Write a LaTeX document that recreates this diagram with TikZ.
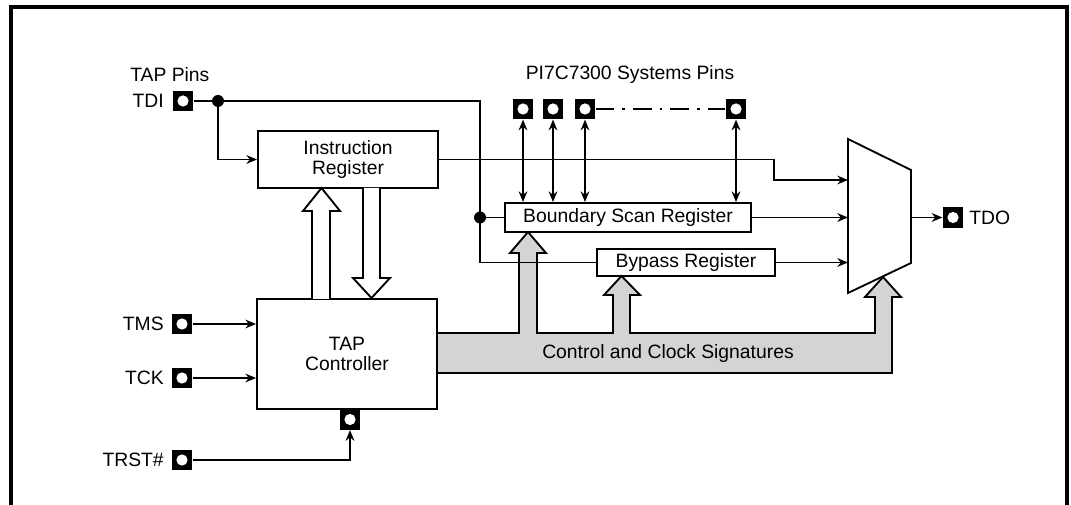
\documentclass[tikz,border=0pt]{standalone}
\usepackage{fontspec}
\setmainfont{Liberation Sans}
\usetikzlibrary{arrows.meta}

\tikzset{
	regbox/.style={draw,rectangle,line width=1.4pt,align=center,inner sep=0pt,font=\fontsize{14.5}{14.5}\selectfont},
	padsq/.style={rectangle,fill=black,minimum size=15.5pt,inner sep=0pt,
		path picture={\fill[white] (path picture bounding box.center) circle (4.2pt);}},
	lbl/.style={font=\fontsize{14.5}{16}\selectfont,inner sep=0pt},
	wire/.style={line width=1.4pt},
	sig/.style={wire,->},
	bus/.style={line width=1.4pt,fill=black!17},
}

\begin{document}
\begin{tikzpicture}[x=0.75pt,y=-0.75pt,>={Stealth[length=8pt,width=6.5pt]}]

	\useasboundingbox (0,0) rectangle (1071,505);
	\draw[line width=2.3pt] (11,505) -- (11,7) -- (1067,7) -- (1067,505);

	% control bus
	\draw[bus] (437,333) -- (519,333) -- (519,253) -- (510,253) -- (528,232) -- (546,253) -- (537,253) -- (537,333)
		-- (613,333) -- (613,295) -- (604,295) -- (621.5,276) -- (640,295) -- (630,295) -- (630,333)
		-- (875,333) -- (875,297) -- (865,297) -- (883,277) -- (901,297) -- (892,297) -- (892,373) -- (437,373);
	\node[lbl] (buslbl) at (668,354) {Control and Clock Signatures};

	% registers
	\node[regbox,minimum width=135pt,minimum height=42.75pt] (ir)  at (348,159.5) {Instruction\\Register};
	\node[regbox,minimum width=135pt,minimum height=82.5pt]  (tap) at (347,354)   {TAP\\Controller};
	\node[regbox,minimum width=184.5pt,minimum height=21.75pt] (bsr) at (628,217.5) {Boundary Scan Register};
	\node[regbox,minimum width=133.5pt,minimum height=20.25pt] (byp) at (686,262.5) {Bypass Register};

	% multiplexer
	\draw[wire] (848,139) -- (911,170) -- (911,263) -- (848,293) -- cycle;
	\coordinate (muxa)   at (848,180);
	\coordinate (muxb)   at (848,217.5);
	\coordinate (muxc)   at (848,262.5);
	\coordinate (muxout) at (911,217.5);

	% hollow arrows between IR and TAP controller
	\draw[wire,fill=white] (312,299) -- (312,211) -- (303,211) -- (321.5,188) -- (340,211) -- (330,211) -- (330,299);
	\draw[wire,fill=white] (363,188) -- (363,278) -- (353,278) -- (371.5,298) -- (390,278) -- (380,278) -- (380,188);

	% pins
	\node[padsq] (tdi)    at (183,101)   {};
	\node[padsq] (tms)    at (182,324)   {};
	\node[padsq] (tck)    at (182,378)   {};
	\node[padsq] (trst)   at (182,460)   {};
	\node[padsq] (trstin) at (350,419.5) {};
	\node[padsq] (tdo)    at (953,217.5) {};
	\foreach \x [count=\i] in {523,553,585,736}
		\node[padsq] (sp\i) at (\x,109) {};

	\node[lbl,anchor=west] (taplbl)  at (130,75)    {TAP Pins};
	\node[lbl,anchor=east] (tdilbl)  at (164,101)   {TDI};
	\node[lbl,anchor=east] (tmslbl)  at (164,324)   {TMS};
	\node[lbl,anchor=east] (tcklbl)  at (164,378)   {TCK};
	\node[lbl,anchor=east] (trstlbl) at (164,460)   {TRST\#};
	\node[lbl,anchor=west] (tdolbl)  at (969,217.5) {TDO};
	\node[lbl]             (syslbl)  at (630,75)    {PI7C7300 Systems Pins};

	% TDI distribution
	\coordinate (tdidot)  at (218,101);
	\coordinate (tdibend) at (480,101);
	\coordinate (bsrdot)  at (480,217.5);
	\draw[wire] (tdi) -- (tdidot) -- (tdibend) |- (byp.west);
	\draw[sig]  (tdidot) |- (ir.west);
	\draw[wire] (bsrdot) -- (bsr.west);
	\fill (tdidot) circle (4.5pt);
	\fill (bsrdot) circle (4.5pt);

	% into the multiplexer
	\coordinate (irbend) at (774,159.5);
	\draw[sig] (ir.east) -- (irbend) |- (muxa);
	\draw[sig] (bsr.east) -- (muxb);
	\draw[sig] (byp.east) -- (muxc);
	\draw[sig] (muxout) -- (tdo.west);

	% system pins
	\foreach \i in {1,...,4}
		\draw[wire,<->] (sp\i.south) -- (sp\i.south |- bsr.north);
	\draw[wire,dash pattern=on 14pt off 6pt on 2pt off 6pt] (sp3.east) -- (sp4.west);

	% TAP inputs
	\draw[sig] (tms) -- (tms -| tap.west);
	\draw[sig] (tck) -- (tck -| tap.west);
	\draw[sig] (trst) -| (trstin.south);

\end{tikzpicture}
\end{document}
